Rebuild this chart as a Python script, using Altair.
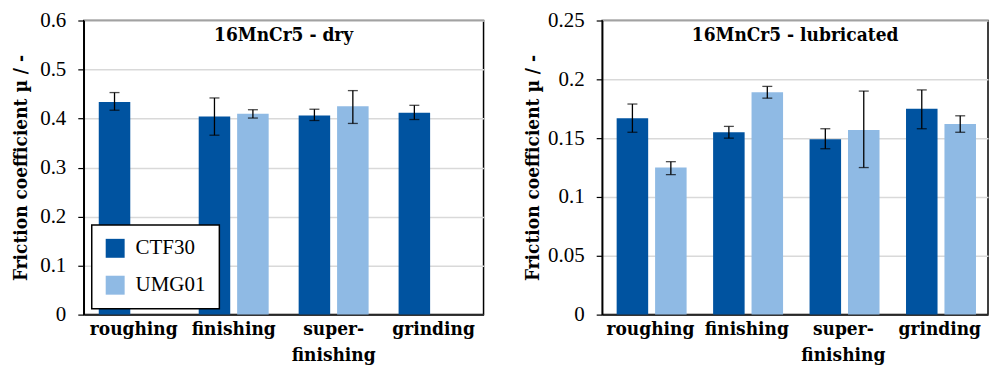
import altair as alt
import pandas as pd

categories = ["roughing", "finishing", "super-finishing", "grinding"]
series = ["CTF30", "UMG01"]
colors = ["#0053A0", "#8FBAE4"]

# dry panel
dry_ctf30 = [0.434, 0.404, 0.406, 0.412]
dry_ctf30_lo = [0.417, 0.366, 0.396, 0.398]
dry_ctf30_hi = [0.453, 0.442, 0.419, 0.427]
dry_umg01 = [None, 0.410, 0.425, None]
dry_umg01_lo = [None, 0.401, 0.390, None]
dry_umg01_hi = [None, 0.418, 0.457, None]

# lubricated panel
lub_ctf30 = [0.167, 0.155, 0.149, 0.175]
lub_ctf30_lo = [0.155, 0.150, 0.141, 0.158]
lub_ctf30_hi = [0.179, 0.160, 0.158, 0.191]
lub_umg01 = [0.125, 0.189, 0.157, 0.162]
lub_umg01_lo = [0.119, 0.184, 0.125, 0.155]
lub_umg01_hi = [0.130, 0.194, 0.190, 0.169]

FONT = "Liberation Serif"
FONT_B = "'DejaVu Serif Condensed', 'DejaVu Serif', serif"
BSIZE = 19


def make_df(a, alo, ahi, b, blo, bhi):
    rows = []
    for s, vals, lo, hi in [("CTF30", a, alo, ahi), ("UMG01", b, blo, bhi)]:
        for c, v, l, h in zip(categories, vals, lo, hi):
            if v is None:
                continue
            rows.append({"category": c, "series": s, "value": v, "lo": l, "hi": h})
    return pd.DataFrame(rows)


def panel(df, ymax, step, title, width, height, title_pad, show_legend):
    ticks = [round(i * step, 4) for i in range(int(round(ymax / step)) + 1)]
    x = alt.X(
        "category:N",
        sort=categories,
        scale=alt.Scale(paddingInner=0.3, paddingOuter=0.15),
        axis=alt.Axis(
            title=None,
            labelAngle=0,
            ticks=False,
            labelFont=FONT_B,
            labelFontSize=BSIZE,
            labelFontWeight="bold",
            labelColor="black",
            labelPadding=5,
            labelLineHeight=26,
            labelExpr="datum.value == 'super-finishing' ? ['super-', 'finishing'] : datum.label",
            domainColor="black",
            domainWidth=1.5,
        ),
    )
    xo = alt.XOffset("series:N", scale=alt.Scale(domain=series, paddingInner=0.18))
    y_axis = alt.Axis(
        title="Friction coefficient µ / -",
        values=ticks,
        format="~g",
        labelFont=FONT,
        labelFontSize=21,
        labelColor="black",
        labelPadding=12,
        tickSize=6,
        tickColor="black",
        tickWidth=1.2,
        domainColor="black",
        domainWidth=1.5,
        titleFont=FONT_B,
        titleFontSize=BSIZE,
        titleFontWeight="bold",
        titleColor="black",
        titlePadding=title_pad,
        grid=True,
        gridColor="#d9d9d9",
        gridWidth=1.5,
    )
    legend = (
        alt.Legend(
            title=None,
            orient="none",
            legendX=8,
            legendY=205,
            fillColor="white",
            strokeColor="black",
            padding=13,
            symbolType="square",
            symbolSize=361,
            symbolStrokeWidth=0,
            labelFont=FONT,
            labelFontSize=21,
            labelColor="black",
            labelOffset=10,
            rowPadding=15,
            labelExpr="datum.label + '    '",
        )
        if show_legend
        else None
    )
    base = alt.Chart(df).encode(x=x, xOffset=xo)
    bars = base.mark_bar().encode(
        y=alt.Y("value:Q", scale=alt.Scale(domain=[0, ymax], nice=False), axis=y_axis),
        color=alt.Color("series:N", scale=alt.Scale(domain=series, range=colors), legend=legend),
    )
    rule = base.mark_rule(color="black", strokeWidth=1.3).encode(y="lo:Q", y2="hi:Q")
    cap_lo = base.mark_tick(color="black", size=10, thickness=1.3).encode(y="lo:Q")
    cap_hi = base.mark_tick(color="black", size=10, thickness=1.3).encode(y="hi:Q")
    ttl = (
        alt.Chart(pd.DataFrame({"t": [title]}))
        .mark_text(font=FONT_B, fontSize=BSIZE, fontWeight="bold", color="black", baseline="middle", align="center")
        .encode(text="t:N", x=alt.value(width / 2), y=alt.value(15))
    )
    return alt.layer(bars, rule, cap_lo, cap_hi, ttl).properties(width=width, height=height)


left = panel(
    make_df(dry_ctf30, dry_ctf30_lo, dry_ctf30_hi, dry_umg01, dry_umg01_lo, dry_umg01_hi),
    0.6, 0.1, "16MnCr5 - dry", 401, 295, 9, True,
)
right = panel(
    make_df(lub_ctf30, lub_ctf30_lo, lub_ctf30_hi, lub_umg01, lub_umg01_lo, lub_umg01_hi),
    0.25, 0.05, "16MnCr5 - lubricated", 387, 295, 5, False,
)

chart = (
    alt.hconcat(left, right, spacing=38)
    .resolve_scale(y="independent", color="independent", x="independent")
    .configure_view(stroke="black", strokeWidth=1.5)
    .configure_legend(strokeWidth=1.5)
    .properties(padding={"left": 3, "top": 0, "right": 0, "bottom": 0}, background="white")
)

chart.save("out.html", embed_options={"renderer": "svg", "actions": False})
